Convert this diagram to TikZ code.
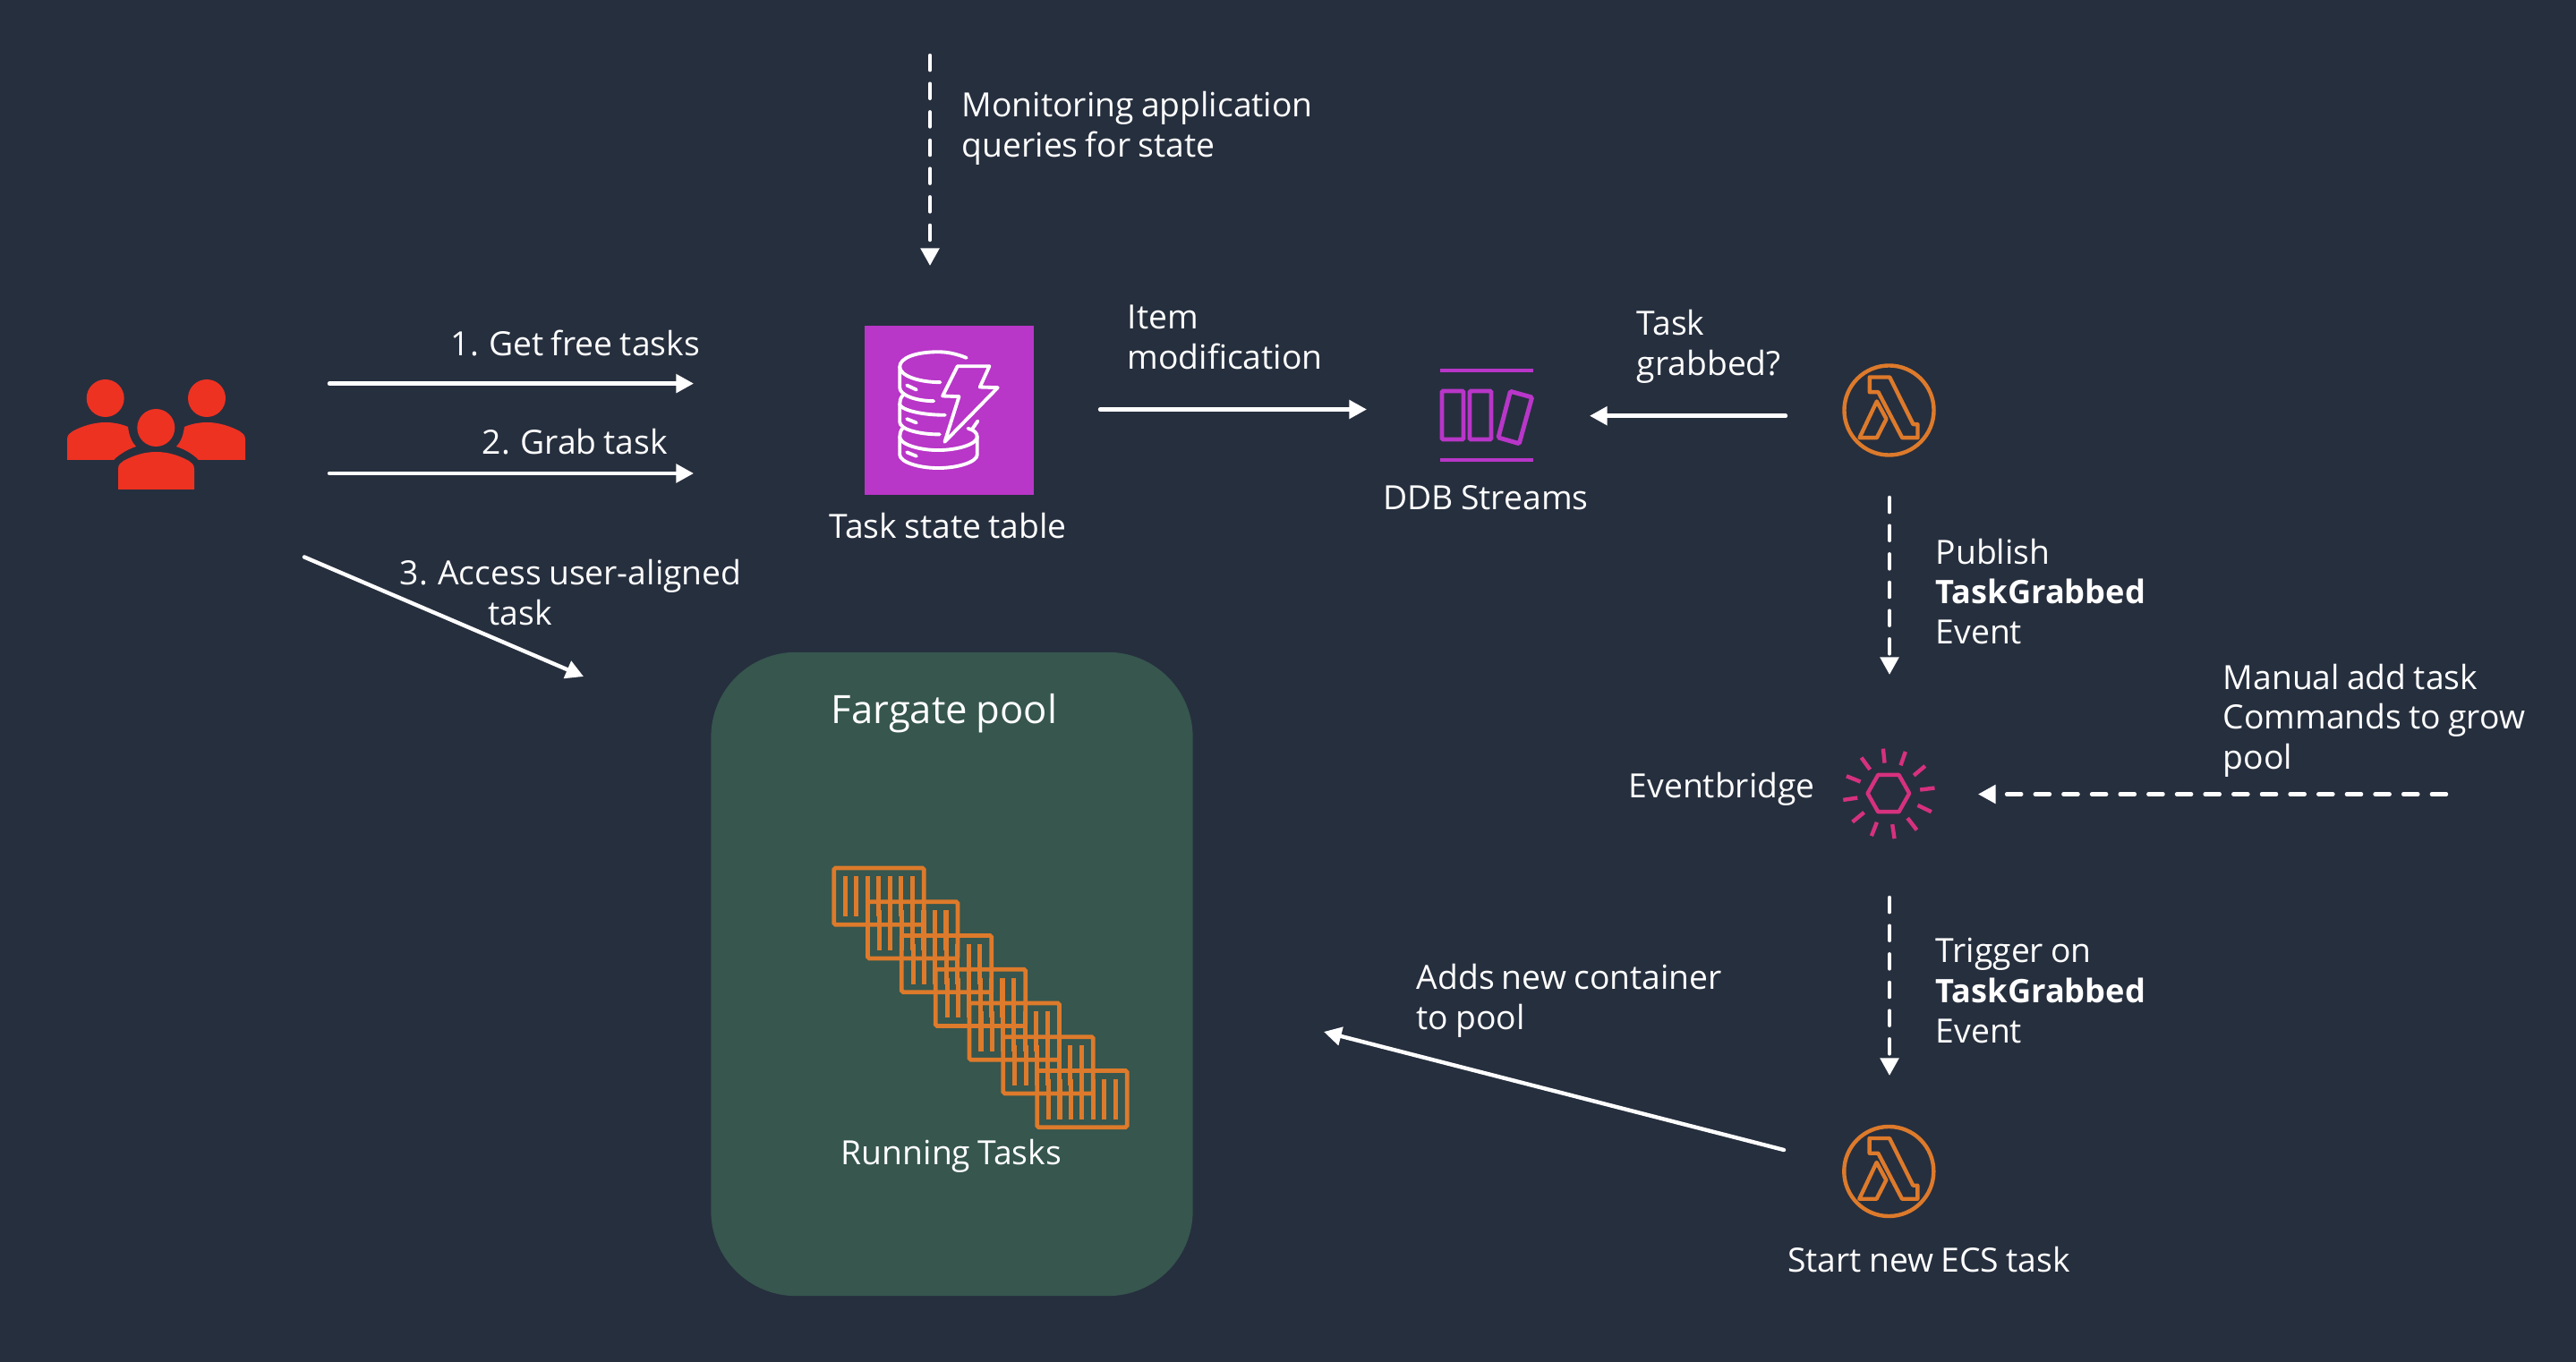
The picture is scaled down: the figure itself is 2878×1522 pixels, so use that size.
\documentclass[tikz,border=0pt]{standalone}
\usepackage{fontspec}
\setmainfont[WordSpace=0.85]{Open Sans}
\usetikzlibrary{arrows.meta}
\definecolor{bgc}{RGB}{38,47,62}
\definecolor{poolc}{RGB}{54,86,78}
\definecolor{redc}{RGB}{237,50,34}
\definecolor{purc}{RGB}{184,54,200}
\definecolor{orc}{RGB}{221,122,43}
\definecolor{pinkc}{RGB}{214,49,127}
\tikzset{
  lbl/.style={text=white,inner sep=0pt,font=\fontsize{10.6}{12.7}\selectfont},
  lblw/.style={lbl,anchor=west,align=left},
  lblc/.style={lbl,anchor=center,align=center},
  conn/.style={draw=white,line width=1.25pt,line cap=round,-{Triangle[length=5.6pt,width=5.8pt]}},
  dconn/.style={conn,dash pattern=on 4.6pt off 4.4pt},
  lam/.style={draw=orc,line width=1.25pt,line join=round},
  lamc/.style={circle,draw=orc,line width=1.25pt,minimum size=1cm,inner sep=0pt},
  ebar/.style={draw=pinkc,line width=1.25pt},
  sbar/.style={draw=purc,line width=1.4pt,rounded corners=0.4pt},
  ddb/.style={draw=white,line width=1.1pt,line cap=round,line join=round},
  cont/.style={draw=orc,line width=1.35pt,rounded corners=0.5pt},
  cbar/.style={draw=orc,line width=1.45pt}
}
\newcommand{\tgword}{{\fontsize{10.3}{12.7}\selectfont\textbf{TaskGrabbed}}}
\newcommand{\lambdaglyph}[1]{%
  \begin{scope}[shift={(#1)}]
    \draw[lam] (-21.7,-37)--(0.7,-37)--(27,15.7)--(32,15.7)--(32,30.7)--(14.7,30.7)--(-12,-20.3)--(-21.7,-20.3)--cycle;
    \draw[lam] (-13.7,-10)--(-3,9.7)--(-13.7,30.7)--(-33,30.7)--cycle;
  \end{scope}}
\begin{document}
\begin{tikzpicture}[x=0.01cm,y=-0.01cm]
\fill[bgc] (0,0) rectangle (2878,1522);
\useasboundingbox (0,0) rectangle (2878,1522);
% users
\fill[redc] (117.7,445) circle (21);
\fill[redc] (231,445) circle (21);
\fill[redc] (174.3,478) circle (21);
\fill[redc] (75,514) -- (75,491) .. controls (75,486) and (78,484) .. (81,482) .. controls (92,476) and (105,472) .. (118,472) .. controls (127,472) and (136,474) .. (143,477) .. controls (144,486) and (147,494) .. (152,499) .. controls (143,502) and (134,507) .. (127,514) -- cycle;
\fill[redc] (274,514) -- (274,491) .. controls (274,486) and (271,484) .. (268,482) .. controls (257,476) and (244,472) .. (231,472) .. controls (222,472) and (213,474) .. (206,477) .. controls (205,486) and (202,494) .. (197,499) .. controls (206,502) and (215,507) .. (222,514) -- cycle;
\fill[redc] (132,547) -- (132,524) .. controls (132,519) and (135,517) .. (138,515) .. controls (149,509) and (161,505) .. (174.5,505) .. controls (188,505) and (200,509) .. (211,515) .. controls (214,517) and (217,519) .. (217,524) -- (217,547) -- cycle;
% DDB table icon
\node[fill=purc,minimum width=1.89cm,minimum height=1.89cm,inner sep=0pt] (table) at (1060.5,458.5) {};
\begin{scope}[shift={(940,340)},x=0.00333333cm,y=-0.00333333cm]
  \draw[ddb] (420,180) .. controls (385,166) and (355,160) .. (325,160) .. controls (250,160) and (196,180) .. (196,210) .. controls (196,240) and (260,262) .. (332,262);
  \draw[ddb] (196,210) -- (196,280) .. controls (196,305) and (250,325) .. (310,325);
  \draw[ddb] (207,305) .. controls (198,315) and (196,325) .. (196,335) .. controls (196,352) and (260,372) .. (348,372);
  \draw[ddb] (196,335) -- (196,395) .. controls (196,420) and (260,437) .. (330,437);
  \draw[ddb] (207,415) .. controls (198,425) and (196,435) .. (196,445) .. controls (196,470) and (260,490) .. (325,490) .. controls (390,490) and (456,470) .. (456,445) .. controls (456,432) and (445,422) .. (425,417);
  \draw[ddb] (458,392) -- (440,418);
  \draw[ddb] (456,445) -- (456,505) .. controls (456,530) and (390,550) .. (325,550) .. controls (260,550) and (196,530) .. (196,505) -- (196,445);
  \draw[ddb] (220,272)--(252,287);
  \draw[ddb] (220,385)--(252,398);
  \draw[ddb] (220,497)--(252,510);
  \draw[ddb] (390,208)--(497,208)--(465,278)--(525,280)--(347,462)--(395,310)--(340,308)--cycle;
\end{scope}
% streams icon
\draw[purc,line width=1.4pt] (1609,414)--(1713,414);
\draw[purc,line width=1.4pt] (1609,514)--(1713,514);
\draw[sbar] (1611,437) rectangle (1635,491);
\draw[sbar] (1642,437) rectangle (1666,491);
\draw[sbar] (1687.4,437.3)--(1711.6,444)--(1697.3,495.7)--(1674,489)--cycle;
% lambda icons
\node[lamc] (lam1) at (2110.5,458.5) {};
\lambdaglyph{2110.5,458.5}
\node[lamc] (lam2) at (2110.3,1309) {};
\lambdaglyph{2110.3,1309}
% eventbridge icon
\begin{scope}[shift={(2030,820)},x=0.00333333cm,y=-0.00333333cm]
  \draw[ebar,line join=round] (170,200)--(205,138)--(275,138)--(310,200)--(275,262)--(205,262)--cycle;
  \foreach \a/\b/\c/\d in {222/50/227/98,297/60/281/106,363/108/325/140,395/182/346/188,384/262/338/240,335/323/304/283,260/352/253/304,183/343/201/297,119/296/158/264,88/222/136/215,99/142/146/161,149/80/178/120}
    \draw[ebar] (\a,\b)--(\c,\d);
\end{scope}
% pool
\node[fill=poolc,rounded corners=0.95cm,minimum width=5.38cm,minimum height=7.19cm,inner sep=0pt] (pool) at (1063.5,1088.5) {};
% containers
\begin{scope}[shift={(910,950)},x=0.00333333cm,y=-0.00333333cm]
  \foreach \i in {0,...,6}{
    \begin{scope}[shift={(113.7*\i,113.4*\i)}]
      \draw[cont] (65,60) rectangle (367,250);
      \foreach \xx in {104,141,178,215,253,290,328}
        \draw[cbar] (\xx,88)--(\xx,223);
    \end{scope}}
\end{scope}
% labels
\node[lblw] (mon) at (1074,143) {Monitoring application\\queries for state};
\node[lblw] (get) at (503,384) {1. Get free tasks};
\node[lblw] (grab) at (538,494) {2. Grab task};
\node[lblw] (access) at (446,662) {3. Access user-aligned\\\hspace*{0.99cm}task};
\node[lblc] (ttab) at (1059,588) {Task state table};
\node[lblw] (item) at (1259,377) {Item\\modification};
\node[lblw] (tgrab) at (1828,387) {Task\\grabbed?};
\node[lblc] (dstr) at (1660,556) {DDB Streams};
\node[lblw] (pub) at (2162,661) {Publish\\\tgword\\Event};
\node[lblw] (man) at (2483,805) {Manual add task\\Commands to grow\\pool};
\node[lblw] (eb) at (1819,882) {Eventbridge};
\node[lblw] (trig) at (2162,1107) {Trigger on\\\tgword\\Event};
\node[lblw] (adds) at (1582,1118) {Adds new container\\to pool};
\node[lblc,font=\fontsize{12.4}{14}\selectfont] (fp) at (1055,797) {Fargate pool};
\node[lblc] (run) at (1063,1292) {Running Tasks};
\node[lblc] (start) at (2155,1408) {Start new ECS task};
% connector ends
\coordinate (a1) at (1039,62); \coordinate (a2) at (1039,297);
\coordinate (b1) at (368,428.6); \coordinate (b2) at (775,428.6);
\coordinate (c1) at (368,529); \coordinate (c2) at (775,529);
\coordinate (d1) at (340,622.5); \coordinate (d2) at (652,756);
\coordinate (e1) at (1229,457.5); \coordinate (e2) at (1527,457.5);
\coordinate (f1) at (1995,464.7); \coordinate (f2) at (1776,464.7);
\coordinate (g1) at (2111,556); \coordinate (g2) at (2111,754);
\coordinate (h1) at (2733,887.5); \coordinate (h2) at (2210,887.5);
\coordinate (i1) at (2111,1003); \coordinate (i2) at (2111,1202);
\coordinate (j1) at (1993,1285); \coordinate (j2) at (1479,1153);
\draw[dconn] (a1) -- (a2);
\draw[conn] (b1) -- (b2);
\draw[conn] (c1) -- (c2);
\draw[conn] (d1) -- (d2);
\draw[conn] (e1) -- (e2);
\draw[conn] (f1) -- (f2);
\draw[dconn] (g1) -- (g2);
\draw[dconn] (h1) -- (h2);
\draw[dconn] (i1) -- (i2);
\draw[conn] (j1) -- (j2);
\end{tikzpicture}
\end{document}
